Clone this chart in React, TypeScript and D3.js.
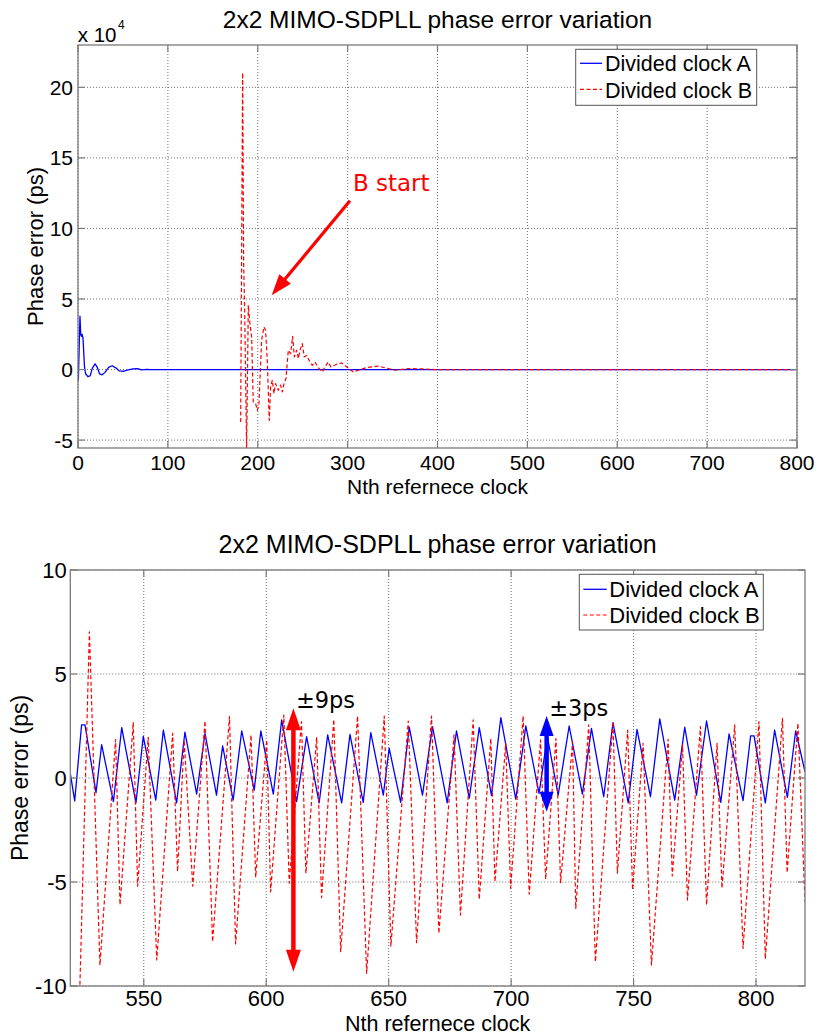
import React from "react";
import * as d3 from "d3";

// ---------- text ----------
const TITLE = "2x2 MIMO-SDPLL phase error variation";
const X_LABEL = "Nth refernece clock";
const Y_LABEL = "Phase error (ps)";
const SERIES_NAMES = ["Divided clock A", "Divided clock B"];

// ---------- ticks ----------
const TOP_X_TICKS = [0, 100, 200, 300, 400, 500, 600, 700, 800];
const TOP_Y_TICKS = [-5, 0, 5, 10, 15, 20]; // x 10^4
const BOT_X_TICKS = [550, 600, 650, 700, 750, 800];
const BOT_Y_TICKS = [-10, -5, 0, 5, 10];

// ---------- data: top panel (values in units of 1e4 ps) ----------
const topClockA: [number, number][] = [
  [0, 0], [0.4, -0.75], [1.3, 1.6], [2.2, 3.78], [3.0, 2.5], [3.8, 2.35], [4.6, 2.5],
  [5.6, 2.2], [7.2, 0.2], [8.5, -0.3], [11, -0.5], [13.5, -0.45], [16, 0.1], [19, 0.4],
  [21.5, 0.15], [24, -0.3], [27, -0.37], [30, -0.2], [34, 0.15], [38, 0.27], [42, 0.12],
  [46, -0.1], [51, -0.12], [56, -0.03], [61, 0.05], [66, 0.07], [71, -0.02], [76, 0.01],
  [82, 0], [800, 0],
];
const topClockB: [number, number][] = [
  [181, -3.71], [183.2, 21.04], [184.3, 7.5], [185.5, 4], [187.6, -5.6], [189.5, 4.56],
  [191.3, 3.26], [193.2, 2.31], [195, -2.3], [197.6, -2.41], [199.5, -2.89], [201.3, -2.5],
  [204.3, 2.08], [206.9, 3.02], [208.7, 2.79], [210.6, 0.66], [212.8, -3.6], [214.3, -1.23],
  [216.2, -0.76], [218, -1.7], [219.9, -1.0], [222.8, -1.47], [225.4, -1.1], [227.3, -1.59],
  [229.2, -0.99], [231.4, -0.64], [234, 1.37], [236.6, 1.13], [238.8, 2.36], [240.7, 0.9],
  [243.3, 1.37], [245.2, 0.78], [247, 1.37], [249.5, 1.84], [251.8, 0.9], [254.4, 1.0],
  [258.1, 0.54], [260.7, 0.3], [263.7, 0.54], [266.7, 0.18], [271.8, -0.17], [274.7, 0.18],
  [278.4, 0.54], [281.4, 0.18], [287.7, 0.37], [293.3, 0.47], [298.8, 0.2], [306.3, -0.17],
  [311.9, -0.05], [321.2, 0.14], [334.2, 0.24], [345.3, 0.07], [352.7, -0.05], [367.5, 0.07],
  [382.4, 0.05], [397.2, 0], [800, 0],
];

// ---------- data: bottom panel (ps) ----------
const botClockA: [number, number][] = [
  [520, 0.22], [521.8, -1.1], [524.6, 2.55], [526, 2.55], [530.5, -0.7], [532.8, 1.6],
  [537.6, -1.14], [541, 2.42], [546.8, -1.2], [549.8, 2.0], [554.9, -1.06], [558, 2.3],
  [563.4, -1.2], [566.8, 2.2], [571.6, -0.77], [575, 2.15], [579.7, -0.82], [582.2, 1.54],
  [586.5, -1.06], [590, 2.27], [595.1, -0.58], [597.8, 2.27], [602.9, -0.77], [606.3, 2.79],
  [612.4, -1.14], [616.5, 1.99], [621.6, -1.2], [625.1, 2.07], [630.8, -1.2], [634.2, 2.1],
  [639.6, -1.17], [642.7, 2.18], [647.8, -0.82], [650.2, 1.43], [654.9, -1.17], [658.4, 2.44],
  [663.8, -0.82], [667.9, 2.47], [673.9, -1.2], [677.7, 2.27], [682.9, -0.98], [687, 2.42],
  [692, -0.85], [695.8, 2.9], [701.9, -1.02], [706, 2.5], [711.4, -0.74], [714.8, 2.0],
  [719.2, -0.82], [723.7, 2.5], [729.1, -0.77], [732.8, 2.39], [737.8, -0.9], [741.6, 2.66],
  [747.8, -1.2], [751.4, 2.34], [756.9, -0.9], [760.7, 2.84], [766.8, -1.06], [770.9, 2.44],
  [775.7, -0.82], [779.8, 2.74], [785.6, -1.17], [789, 2.12], [794.7, -1.09], [797.8, 2.03],
  [799.2, 2.03], [803.8, -1.2], [807.6, 2.3], [812.8, -0.93], [816.2, 2.27], [820, 0.3],
];
const botClockB: [number, number][] = [
  [523, -14], [527.8, 7.03], [532.1, -9.0], [538.5, 1.85], [540.3, -6.1], [545.7, 2.66],
  [547.5, -5.2], [551.8, 1.96], [555.3, -8.75], [561.8, 2.15], [563.8, -4.5], [566.5, 1.8],
  [570, -5.2], [575, 2.74], [578.1, -7.87], [585, 2.95], [587.5, -7.98], [593.8, 2.07],
  [595.7, -4.77], [600.2, 1.83], [601.8, -5.47], [607.2, 3.03], [609.4, -5.06], [614.4, 2.71],
  [616.2, -4.58], [620.6, 1.96], [622.6, -5.75], [627.6, 2.82], [630.4, -8.35], [637.3, 2.98],
  [641, -9.39], [648.2, 2.98], [650.9, -8.08], [658, 2.74], [661.4, -7.92], [667.5, 2.98],
  [670.5, -7.47], [676.7, 2.07], [679.3, -6.59], [684.5, 2.79], [687, -5.83], [691.7, 1.9],
  [693.4, -4.98], [697.8, 1.67], [699.8, -5.3], [704.9, 2.98], [707.4, -5.59], [712, 1.83],
  [714.1, -4.87], [718.3, 1.9], [720.2, -5.03], [725.1, 1.75], [726.4, -6.27], [731.7, 2.55],
  [734.4, -8.83], [741.6, 2.71], [743.4, -4.58], [747.6, 2.3], [749.6, -5.38], [753.9, 1.67],
  [757.3, -8.99], [764.1, 1.86], [765.8, -4.71], [770, 1.59], [772, -5.87], [777.3, 2.47],
  [779.8, -6.1], [784.1, 1.67], [786.1, -5.3], [791.3, 2.55], [794.7, -8.19], [801.2, 2.71],
  [803.8, -8.7], [810.8, 2.87], [812.7, -4.55], [817.1, 2.63], [820, -5.95],
];

// ---------- annotations (data coordinates) ----------
const TOP_NOTE = { text: "B start", x: 305.9, y: 12.67, tailX: 302.6, tailY: 11.96, tipX: 215.5, tipY: 5.27 };
const BOT_NOTES = [
  { text: "\u00b19ps", x: 611.1, top: 3.35, bottom: -9.31, color: "#ff0000" },
  { text: "\u00b13ps", x: 714.5, top: 2.98, bottom: -1.62, color: "#0000ff" },
];

const FONT = "'Liberation Sans', Arial, Helvetica, sans-serif";
const NOTE_FONT = "'DejaVu Sans', Verdana, sans-serif";
const BLUE = "#0000ff";
const RED = "#ff0000";

type Frame = { left: number; right: number; top: number; bottom: number };

function arrowHead(tipX: number, tipY: number, dx: number, dy: number, L: number, W: number) {
  const len = Math.hypot(dx, dy);
  const ux = dx / len, uy = dy / len;
  const bx = tipX - ux * L, by = tipY - uy * L;
  const px = -uy, py = ux;
  return `${tipX},${tipY} ${bx + px * W / 2},${by + py * W / 2} ${bx - px * W / 2},${by - py * W / 2}`;
}

function Panel(props: {
  id: string;
  frame: Frame;
  xDomain: [number, number];
  yDomain: [number, number];
  xTicks: number[];
  yTicks: number[];
  a: [number, number][];
  b: [number, number][];
  tickFont: number;
  xTickBaseline: number;
  yTickGap: number;
  titleBaseline: number;
  titleFont: number;
  xLabelBaseline: number;
  xLabelFont: number;
  yLabelX: number;
  yLabelFont: number;
  legend: { x: number; y: number; w: number; h: number; lineX1: number; lineX2: number; textX: number; rows: number[]; lineRows: number[]; font: number };
  children?: (x: d3.ScaleLinear<number, number>, y: d3.ScaleLinear<number, number>) => React.ReactNode;
}) {
  const { frame: f } = props;
  const x = d3.scaleLinear().domain(props.xDomain).range([f.left, f.right]);
  const y = d3.scaleLinear().domain(props.yDomain).range([f.bottom, f.top]);
  const line = d3.line<[number, number]>().x((d) => x(d[0])).y((d) => y(d[1]));
  const tickLen = 7;
  const gridColor = "#6f6f6f";
  const axisColor = "#7a7a7a";
  const cx = (f.left + f.right) / 2;
  const cy = (f.top + f.bottom) / 2;
  const lg = props.legend;
  return (
    <g>
      <defs>
        <clipPath id={props.id}>
          <rect x={f.left} y={f.top} width={f.right - f.left} height={f.bottom - f.top} />
        </clipPath>
      </defs>
      <rect x={f.left} y={f.top} width={f.right - f.left} height={f.bottom - f.top} fill="#fff" />
      {props.xTicks.map((t) => (
        <line key={"gx" + t} x1={x(t)} x2={x(t)} y1={f.top} y2={f.bottom} stroke={gridColor} strokeWidth={1} strokeDasharray="1,2" />
      ))}
      {props.yTicks.map((t) => (
        <line key={"gy" + t} x1={f.left} x2={f.right} y1={y(t)} y2={y(t)} stroke={gridColor} strokeWidth={1} strokeDasharray="1,2" />
      ))}
      <g clipPath={`url(#${props.id})`}>
        <path d={line(props.a) || ""} fill="none" stroke={BLUE} strokeWidth={1.3} strokeLinejoin="round" />
        <path d={line(props.b) || ""} fill="none" stroke={RED} strokeWidth={1.2} strokeDasharray="4,2.5" strokeLinejoin="round" />
      </g>
      <rect x={f.left} y={f.top} width={f.right - f.left} height={f.bottom - f.top} fill="none" stroke={axisColor} strokeWidth={1.3} />
      {props.xTicks.map((t) => (
        <g key={"tx" + t}>
          <line x1={x(t)} x2={x(t)} y1={f.bottom} y2={f.bottom - tickLen} stroke={axisColor} strokeWidth={1.2} />
          <line x1={x(t)} x2={x(t)} y1={f.top} y2={f.top + tickLen} stroke={axisColor} strokeWidth={1.2} />
          <text x={x(t)} y={props.xTickBaseline} textAnchor="middle" fontFamily={FONT} fontSize={props.tickFont} fill="#000">{t}</text>
        </g>
      ))}
      {props.yTicks.map((t) => (
        <g key={"ty" + t}>
          <line x1={f.left} x2={f.left + tickLen} y1={y(t)} y2={y(t)} stroke={axisColor} strokeWidth={1.2} />
          <line x1={f.right} x2={f.right - tickLen} y1={y(t)} y2={y(t)} stroke={axisColor} strokeWidth={1.2} />
          <text x={f.left - props.yTickGap} y={y(t)} dy="0.36em" textAnchor="end" fontFamily={FONT} fontSize={props.tickFont} fill="#000">{t}</text>
        </g>
      ))}
      <text x={cx} y={props.titleBaseline} textAnchor="middle" fontFamily={FONT} fontSize={props.titleFont} fill="#000">{TITLE}</text>
      <text x={cx} y={props.xLabelBaseline} textAnchor="middle" fontFamily={FONT} fontSize={props.xLabelFont} fill="#000">{X_LABEL}</text>
      <text transform={`translate(${props.yLabelX},${cy}) rotate(-90)`} textAnchor="middle" fontFamily={FONT} fontSize={props.yLabelFont} fill="#000">{Y_LABEL}</text>
      <rect x={lg.x} y={lg.y} width={lg.w} height={lg.h} fill="#fff" stroke="#555" strokeWidth={1} />
      <line x1={lg.lineX1} x2={lg.lineX2} y1={lg.lineRows[0]} y2={lg.lineRows[0]} stroke={BLUE} strokeWidth={1.3} />
      <line x1={lg.lineX1} x2={lg.lineX2} y1={lg.lineRows[1]} y2={lg.lineRows[1]} stroke={RED} strokeWidth={1.2} strokeDasharray="4,2.5" />
      <text x={lg.textX} y={lg.rows[0]} fontFamily={FONT} fontSize={lg.font} fill="#000">{SERIES_NAMES[0]}</text>
      <text x={lg.textX} y={lg.rows[1]} fontFamily={FONT} fontSize={lg.font} fill="#000">{SERIES_NAMES[1]}</text>
      {props.children ? props.children(x, y) : null}
    </g>
  );
}

export default function App() {
  const topFrame: Frame = { left: 78, right: 797, top: 45, bottom: 448 };
  const botFrame: Frame = { left: 70.3, right: 805, top: 570, bottom: 986 };
  return (
    <div style={{ position: "absolute", left: 0, top: 0 }}>
      <svg width={818} height={1035} style={{ display: "block", background: "#fff" }}>
        <rect x={0} y={0} width={818} height={1035} fill="#fff" />
        <Panel
          id="clipTop"
          frame={topFrame}
          xDomain={[0, 800]}
          yDomain={[-5.56, 23]}
          xTicks={TOP_X_TICKS}
          yTicks={TOP_Y_TICKS}
          a={topClockA}
          b={topClockB}
          tickFont={21}
          xTickBaseline={470}
          yTickGap={5}
          titleBaseline={28}
          titleFont={24.5}
          xLabelBaseline={494}
          xLabelFont={21}
          yLabelX={43}
          yLabelFont={22}
          legend={{ x: 575.7, y: 49.3, w: 181, h: 56, lineX1: 580, lineX2: 602, textX: 605, rows: [71, 97.7], lineRows: [63.3, 89.3], font: 21.5 }}
        >
          {(x, y) => {
            const tx = x(TOP_NOTE.tailX), ty = y(TOP_NOTE.tailY);
            const px = x(TOP_NOTE.tipX), py = y(TOP_NOTE.tipY);
            const dx = px - tx, dy = py - ty;
            const len = Math.hypot(dx, dy);
            const L = 21;
            const ex = px - (dx / len) * (L - 2), ey = py - (dy / len) * (L - 2);
            return (
              <g>
                <line x1={tx} y1={ty} x2={ex} y2={ey} stroke={RED} strokeWidth={3.2} />
                <polygon points={arrowHead(px, py, dx, dy, L, 15)} fill={RED} />
                <text x={x(TOP_NOTE.x)} y={y(TOP_NOTE.y)} fontFamily={NOTE_FONT} fontSize={23} fill={RED}>{TOP_NOTE.text}</text>
              </g>
            );
          }}
        </Panel>
        <text x={77.7} y={41.7} fontFamily={FONT} fontSize={20.5} fill="#000">x 10</text>
        <text x={118} y={28.5} fontFamily={FONT} fontSize={12} fill="#000">4</text>
        <Panel
          id="clipBot"
          frame={botFrame}
          xDomain={[520, 820]}
          yDomain={[-10, 10]}
          xTicks={BOT_X_TICKS}
          yTicks={BOT_Y_TICKS}
          a={botClockA}
          b={botClockB}
          tickFont={22}
          xTickBaseline={1005.5}
          yTickGap={3.6}
          titleBaseline={552.7}
          titleFont={25}
          xLabelBaseline={1030.5}
          xLabelFont={21.5}
          yLabelX={28}
          yLabelFont={23}
          legend={{ x: 579.3, y: 574.3, w: 184, h: 55.7, lineX1: 583.3, lineX2: 606.7, textX: 609.3, rows: [596.7, 623.3], lineRows: [589.3, 615], font: 22 }}
        >
          {(x, y) => (
            <g>
              {BOT_NOTES.map((n, i) => {
                const cx = x(n.x);
                const t = y(n.top), b = y(n.bottom);
                const L = i === 0 ? 22 : 20;
                const W = i === 0 ? 15 : 14;
                return (
                  <g key={n.text}>
                    <line x1={cx} x2={cx} y1={t + L - 2} y2={b - L + 2} stroke={n.color} strokeWidth={4.5} />
                    <polygon points={arrowHead(cx, t, 0, -1, L, W)} fill={n.color} />
                    <polygon points={arrowHead(cx, b, 0, 1, L, W)} fill={n.color} />
                    <text x={cx + 2.5} y={t} fontFamily={NOTE_FONT} fontSize={22.5} fill="#000">{n.text}</text>
                  </g>
                );
              })}
            </g>
          )}
        </Panel>
      </svg>
    </div>
  );
}
